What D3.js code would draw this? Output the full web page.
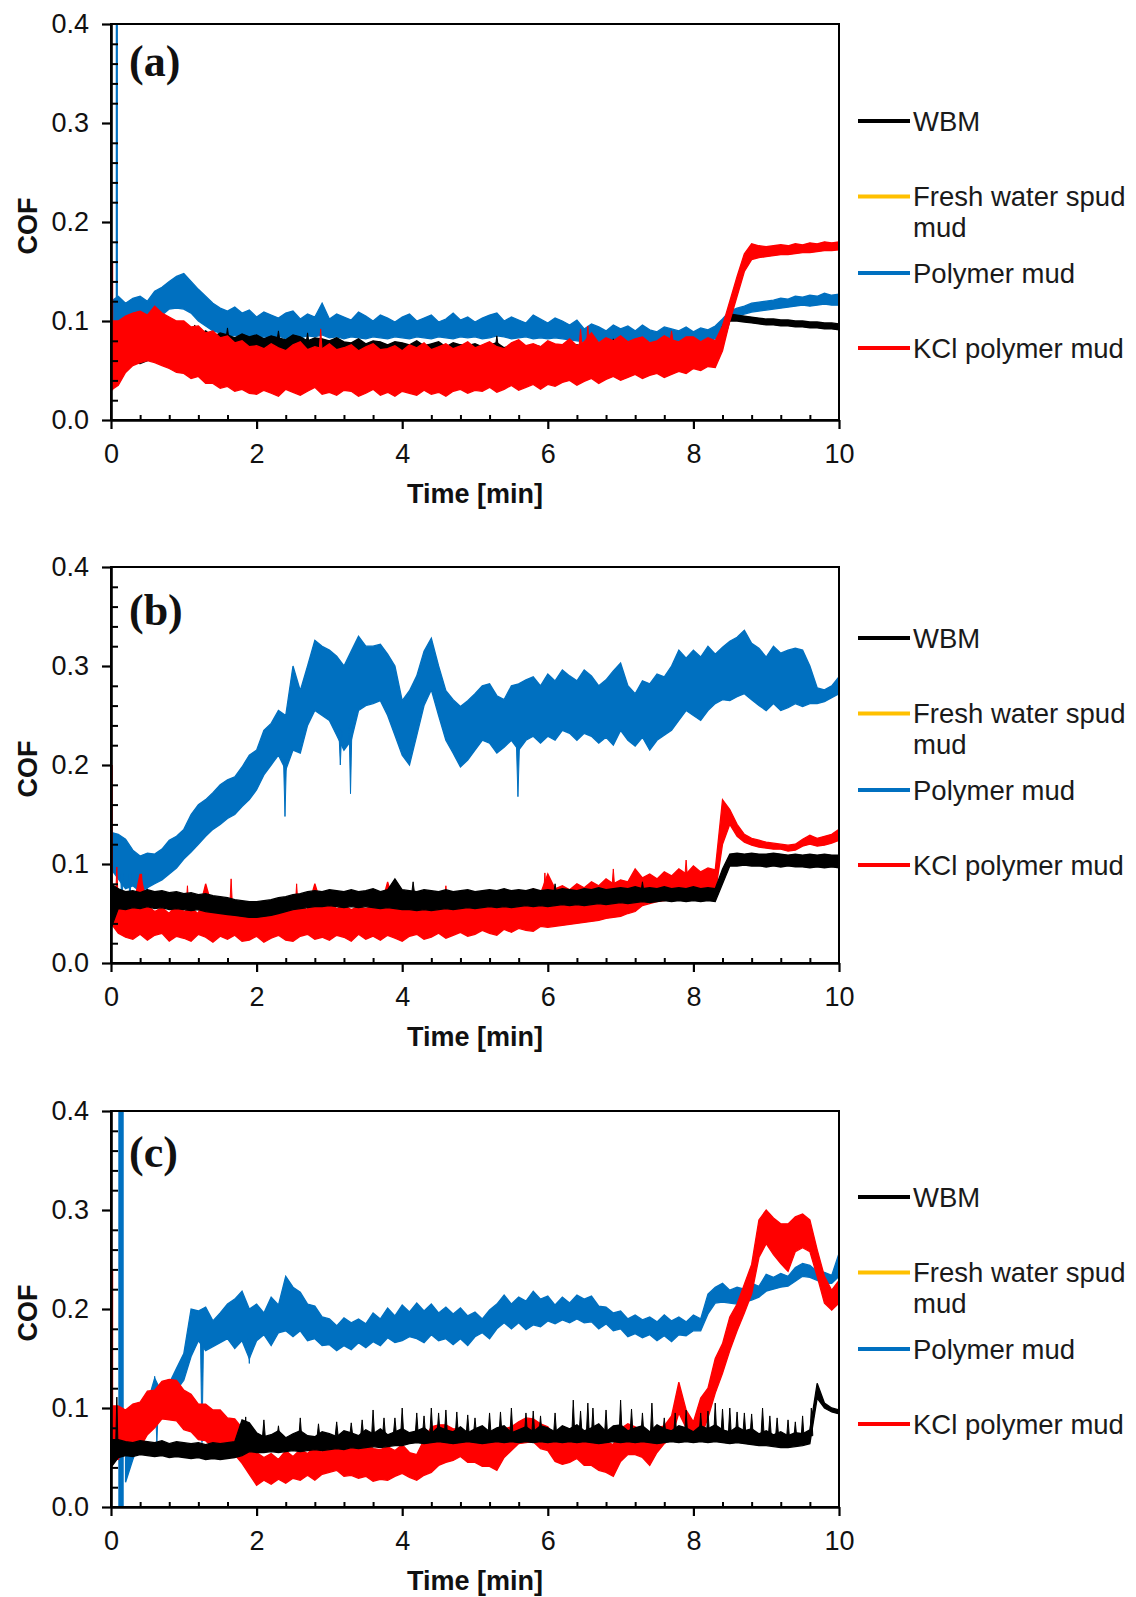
<!DOCTYPE html>
<html>
<head>
<meta charset="utf-8">
<script src="https://cdn.jsdelivr.net/npm/d3@7"></script>
<style>
  html, body { margin: 0; padding: 0; background: #fff; }
  svg { display: block; }
</style>
</head>
<body>
<svg id="chart" width="1136" height="1597"></svg>
<script>
// ---------------------------------------------------------------------------
// Coefficient of friction vs. time for three test runs (a), (b), (c).
// Each trace is noisy, so it is stored as its band: the low and high COF
// reading in each 0.1-min sample (values in thousandths of COF).
// Isolated excursions are listed separately as spikes [min, base, tip]
// and narrow bars [fromMin, toMin, low, high].
// ---------------------------------------------------------------------------

const minutes = [
  0, 0.1, 0.2, 0.3, 0.4, 0.5, 0.6, 0.7, 0.8, 0.9,
  1, 1.1, 1.2, 1.3, 1.4, 1.5, 1.6, 1.7, 1.8, 1.9,
  2, 2.1, 2.2, 2.3, 2.4, 2.5, 2.6, 2.7, 2.8, 2.9,
  3, 3.1, 3.2, 3.3, 3.4, 3.5, 3.6, 3.7, 3.8, 3.9,
  4, 4.1, 4.2, 4.3, 4.4, 4.5, 4.6, 4.7, 4.8, 4.9,
  5, 5.1, 5.2, 5.3, 5.4, 5.5, 5.6, 5.7, 5.8, 5.9,
  6, 6.1, 6.2, 6.3, 6.4, 6.5, 6.6, 6.7, 6.8, 6.9,
  7, 7.1, 7.2, 7.3, 7.4, 7.5, 7.6, 7.7, 7.8, 7.9,
  8, 8.1, 8.2, 8.3, 8.4, 8.5, 8.6, 8.7, 8.8, 8.9,
  9, 9.1, 9.2, 9.3, 9.4, 9.5, 9.6, 9.7, 9.8, 9.9,
  10
];

const seriesNames  = ["WBM", "Fresh water spud mud", "Polymer mud", "KCl polymer mud"];
const seriesColors = ["#000000", "#FFC000", "#0070C0", "#FF0000"];
const panelLabels  = ["(a)", "(b)", "(c)"];

const timeTicks  = [0, 2, 4, 6, 8, 10];
const timeMinor  = [0.4, 0.8, 1.2, 1.6, 2.4, 2.8, 3.2, 3.6, 4.4, 4.8, 5.2, 5.6,
                    6.4, 6.8, 7.2, 7.6, 8.4, 8.8, 9.2, 9.6];
const cofTicks   = [0, 0.1, 0.2, 0.3, 0.4];
const cofMinor   = [0.02, 0.04, 0.06, 0.08, 0.12, 0.14, 0.16, 0.18, 0.22, 0.24,
                    0.26, 0.28, 0.32, 0.34, 0.36, 0.38];

// ----- run (a) -----
const polyLoA = [
  95, 92, 96, 98, 95, 100, 103, 106, 112, 113,
  112, 108, 100, 95, 90, 88, 86, 85, 86, 84,
  83, 84, 83, 85, 82, 84, 83, 85, 84, 86,
  83, 84, 82, 84, 83, 82, 84, 83, 82, 84,
  83, 82, 84, 83, 82, 84, 83, 82, 84, 83,
  84, 82, 83, 85, 84, 82, 83, 84, 82, 83,
  82, 83, 82, 81, 80, 79, 78, 79, 78, 77,
  79, 78, 77, 78, 79, 77, 78, 79, 78, 77,
  78, 79, 80, 82, 92, 100, 105, 107, 109, 110,
  111, 112, 113, 114, 115, 116, 115, 116, 117, 116,
  116
];
const polyHiA = [
  120, 125, 118, 123, 125, 120, 130, 134, 140, 145,
  148, 140, 132, 125, 118, 113, 110, 114, 108, 111,
  104, 109, 106, 103, 108, 110, 102, 107, 104, 118,
  102, 107, 104, 101, 109, 105, 100, 106, 103, 99,
  104, 107, 100, 103, 106, 99, 102, 108, 101, 104,
  99, 103, 106, 108, 100, 104, 101, 98, 106, 102,
  98, 103, 100, 96, 101, 92, 97, 94, 90, 96,
  92, 95, 90, 96, 91, 89, 94, 92, 90, 94,
  89, 93, 91, 95, 102, 110, 113, 115, 118, 119,
  120, 121, 123, 122, 125, 124, 126, 125, 128, 126,
  127
];
const polySpikesA = [];
const polyBarsA = [[0.065, 0.095, 110, 400]];

const wbmLoA = [
  65, 62, 60, 58, 57, 60, 62, 65, 68, 70,
  70, 71, 70, 69, 70, 68, 69, 67, 68, 66,
  67, 66, 67, 65, 66, 64, 66, 65, 64, 65,
  63, 64, 63, 62, 64, 63, 62, 63, 61, 62,
  61, 62, 60, 61, 60, 61, 59, 60, 61, 59,
  60, 59, 60, 58, 59, 60, 58, 59, 57, 58,
  57, 58, 56, 57, 58, 56, 57, 56, 58, 56,
  57, 56, 57, 55, 56, 57, 55, 56, 57, 55,
  56, 57, 56, 58, 75, 100, 100, 99, 98, 97,
  96, 96, 95, 95, 94, 94, 93, 93, 92, 92,
  91
];
const wbmHiA = [
  100, 95, 90, 88, 86, 90, 92, 94, 92, 90,
  92, 87, 85, 90, 84, 88, 86, 83, 87, 84,
  86, 82, 85, 83, 81, 86, 84, 80, 83, 82,
  80, 83, 79, 78, 82, 77, 80, 79, 76, 79,
  78, 76, 80, 75, 77, 79, 74, 78, 76, 75,
  77, 74, 76, 78, 73, 75, 77, 73, 76, 74,
  73, 76, 74, 72, 76, 73, 71, 75, 74, 72,
  75, 72, 73, 76, 71, 74, 73, 72, 75, 71,
  73, 74, 72, 75, 95, 107, 106, 105, 104, 103,
  102, 102, 101, 101, 100, 100, 99, 99, 98, 98,
  97
];
const wbmSpikesA = [[0.95, 85, 98], [1.15, 84, 96], [1.6, 82, 93], [2.3, 80, 90],
                    [2.7, 78, 88], [5.3, 74, 85], [6.9, 72, 82]];
const wbmBarsA = [];

const kclLoA = [
  30, 35, 48, 55, 58, 60, 58, 55, 52, 48,
  47, 42, 44, 37, 37, 32, 34, 29, 31, 27,
  26, 30, 27, 24, 31, 28, 25, 29, 33, 26,
  28, 25, 30, 29, 24, 27, 31, 25, 28, 24,
  29, 27, 25, 30, 26, 28, 24, 29, 31, 27,
  30, 29, 33, 28, 31, 35, 30, 33, 36, 31,
  36, 34, 38, 40, 35, 39, 42, 37, 41, 44,
  40, 43, 46, 42, 45, 47, 43, 46, 49, 47,
  52, 50, 54, 53, 70, 100, 125, 150, 162, 164,
  165, 166, 167, 167, 168, 169, 169, 170, 171, 171,
  172
];
const kclHiA = [
  100, 100, 105, 108, 110, 106, 115, 108, 104, 100,
  100, 94, 95, 88, 90, 83, 85, 78, 80, 74,
  75, 72, 77, 73, 70, 76, 79, 71, 74, 72,
  77, 71, 73, 76, 70, 74, 77, 71, 72, 75,
  70, 76, 73, 78, 71, 74, 77, 72, 75, 79,
  73, 76, 79, 74, 72, 78, 81, 75, 77, 74,
  80, 77, 76, 82, 75, 79, 88, 78, 83, 80,
  85, 79, 82, 84, 78, 80, 85, 81, 79, 84,
  84, 79, 83, 80, 95, 120, 145, 168, 178, 176,
  175, 176, 177, 176, 178, 177, 179, 178, 180, 179,
  180
];
const kclSpikesA = [[2.88, 70, 92], [6.45, 75, 92], [6.55, 75, 95], [7.7, 80, 90]];
const kclBarsA = [[0, 0.03, 30, 160]];

// ----- run (b) -----
const polyLoB = [
  95, 85, 75, 78, 72, 76, 80, 84, 90, 96,
  105, 112, 120, 128, 135, 140, 146, 150, 158, 165,
  175, 190, 200, 210, 195, 215, 212, 240, 255, 250,
  245, 230, 215, 225, 255, 260, 262, 265, 250, 230,
  210, 200, 230, 260, 276, 250, 225, 212, 198, 205,
  215, 225, 222, 212, 218, 225, 215, 225, 229, 222,
  229, 225, 235, 232, 225, 232, 229, 222, 228, 220,
  235, 225, 219, 228, 215, 225, 230, 235, 245, 255,
  250, 245, 255, 262, 266, 265, 269, 272, 266, 260,
  255, 262, 255, 258, 262, 259, 262, 262, 264, 268,
  272
];
const polyHiB = [
  132, 130, 125, 114, 108, 111, 110, 115, 124, 128,
  135, 150, 160, 165, 172, 180, 185, 188, 198, 210,
  215, 235, 242, 255, 250, 300, 275, 300, 326, 320,
  316, 310, 300, 315, 330, 320, 320, 322, 312, 300,
  265, 275, 290, 315, 328, 300, 275, 266, 259, 265,
  272, 280, 282, 270, 266, 280, 282, 286, 289, 280,
  292, 285, 296, 290, 285, 296, 290, 280, 286, 295,
  303, 280, 272, 285, 282, 292, 289, 300, 316, 308,
  316, 309, 320, 312, 319, 325, 329, 336, 323, 318,
  309, 320, 313, 316, 318, 316, 300, 278, 276, 280,
  289
];
const polySpikesB = [[0.15, 90, 62], [0.26, 90, 65], [0.49, 90, 66], [2.39, 205, 148],
                     [3.15, 235, 200], [3.29, 240, 171], [5.59, 218, 168]];
const polyBarsB = [];

const wbmLoB = [
  35, 55, 54, 56, 55, 57, 55, 56, 54, 55,
  54, 53, 54, 52, 51, 50, 49, 48, 47, 46,
  46, 47, 48, 50, 52, 54, 55, 56, 57, 57,
  58, 57, 56, 57, 56, 57, 56, 55, 56, 55,
  54, 54, 53, 54, 53, 54, 55, 54, 55, 56,
  55, 56, 57, 56, 57, 56, 57, 58, 57, 58,
  57, 58, 59, 58, 59, 58, 59, 60, 59, 60,
  61, 60, 61, 62, 61, 62, 63, 62, 63, 62,
  63, 62, 63, 62, 80, 98, 98, 99, 98, 98,
  97, 98, 97, 98, 97, 97, 96, 97, 96, 97,
  96
];
const wbmHiB = [
  80, 75, 72, 73, 71, 74, 72, 73, 71, 72,
  70, 71, 69, 70, 68, 67, 66, 64, 63, 62,
  62, 63, 64, 66, 67, 69, 70, 72, 73, 72,
  74, 73, 72, 74, 72, 73, 75, 72, 74, 85,
  74, 73, 72, 74, 73, 72, 74, 72, 73, 74,
  72, 73, 74, 73, 75, 73, 74, 73, 75, 73,
  74, 73, 75, 74, 73, 75, 74, 76, 74, 75,
  76, 75, 77, 75, 76, 75, 77, 75, 76, 75,
  77, 75, 76, 75, 95, 110, 111, 110, 111, 110,
  110, 111, 110, 109, 110, 109, 110, 109, 110, 109,
  109
];
const wbmSpikesB = [[4.15, 70, 82], [6.1, 70, 80], [7.3, 72, 82]];
const wbmBarsB = [];

const kclLoB = [
  40, 30, 26, 24, 29, 23, 28, 30, 22, 27,
  25, 22, 29, 26, 21, 27, 24, 28, 22, 23,
  27, 21, 25, 28, 23, 22, 27, 29, 24, 26,
  23, 28, 26, 22, 29, 24, 27, 23, 28, 25,
  22, 27, 29, 24, 26, 30, 25, 28, 31, 27,
  29, 33, 30, 28, 34, 31, 35, 33, 32, 37,
  36, 37, 38, 39, 40, 41, 42, 43, 45, 46,
  47, 50, 52, 58, 60, 62, 63, 64, 65, 66,
  67, 68, 69, 70, 120, 140, 128, 122, 119, 117,
  116, 115, 115, 113, 114, 118, 120, 118, 119, 121,
  124
];
const kclHiB = [
  75, 75, 60, 55, 90, 58, 52, 56, 50, 60,
  52, 55, 50, 80, 54, 52, 56, 50, 54, 52,
  55, 50, 56, 52, 58, 53, 57, 54, 80, 56,
  60, 55, 58, 54, 57, 55, 58, 55, 82, 56,
  58, 55, 59, 56, 60, 58, 62, 58, 63, 59,
  64, 60, 65, 62, 68, 63, 70, 66, 75, 70,
  90, 75, 78, 74, 80, 76, 82, 78, 85, 80,
  84, 82, 95, 86, 90, 85, 92, 88, 95, 90,
  98, 92, 96, 94, 165, 155, 140, 130, 126, 124,
  122, 121, 120, 119, 120, 125, 129, 126, 128, 130,
  135
];
const kclSpikesB = [[0.08, 60, 97], [0.42, 60, 90], [1.05, 55, 78], [1.65, 55, 85],
                    [2.55, 55, 80], [4.6, 58, 78], [5.96, 65, 91], [6.9, 75, 95],
                    [7.9, 85, 104]];
const kclBarsB = [[0, 0.025, 40, 200]];

// ----- run (c) -----
const polyLoC = [
  null, null, 25, 48, 68, 82, 85, 90, 100, 118,
  128, 152, 168, 158, 162, 166, 170, 160, 168, 150,
  168, 174, 163, 176, 178, 172, 178, 168, 170, 163,
  164, 158, 163, 159, 166, 161, 167, 163, 171, 166,
  168, 172, 170, 166, 174, 168, 170, 164, 170, 163,
  172, 176, 170, 180, 186, 180, 186, 179, 184, 182,
  188, 185, 189, 186, 190, 186, 187, 180, 185, 178,
  180, 172, 175, 171, 174, 168, 173, 167, 174, 173,
  178, 178, 195, 206, 207, 206, 205, 207, 209, 212,
  218, 220, 222, 223, 228, 233, 232, 229, 226, 226,
  233
];
const polyHiC = [
  null, null, 50, 70, 90, 105, 130, 115, 125, 140,
  155, 200, 198, 202, 188, 196, 205, 210, 218, 200,
  205, 196, 212, 204, 233, 222, 217, 205, 203, 192,
  190, 183, 191, 186, 190, 185, 196, 190, 201, 193,
  204, 197, 206, 198, 205, 196, 202, 195, 201, 193,
  197, 190, 199, 205, 214, 205, 212, 208, 218, 210,
  213, 204, 212, 206, 214, 210, 213, 203, 202, 196,
  198, 190, 194, 189, 192, 187, 194, 188, 192, 187,
  194, 190, 215, 222, 226, 219, 222, 220, 226, 223,
  235, 232, 236, 233, 242, 246, 244, 238, 237, 234,
  256
];
const polySpikesC = [[0.63, 100, 65], [0.6, 110, 132], [1.25, 165, 65], [1.9, 170, 145]];
const polyBarsC = [[0.1, 0.175, 0, 400]];

const wbmLoC = [
  40, 50, 52, 51, 53, 52, 51, 52, 50, 51,
  50, 49, 50, 48, 49, 48, 49, 50, 52, 56,
  55, 55, 56, 55, 56, 57, 56, 57, 58, 57,
  58, 59, 58, 60, 59, 60, 61, 60, 61, 62,
  62, 64, 65, 64, 65, 66, 65, 64, 65, 66,
  65, 64, 65, 66, 65, 66, 65, 66, 65, 66,
  65, 66, 65, 66, 65, 66, 65, 64, 65, 66,
  65, 66, 65, 66, 65, 64, 65, 66, 65, 66,
  65, 66, 65, 66, 65, 64, 65, 64, 63, 62,
  62, 61, 60, 60, 61, 62, 64, 110, 100, 96,
  94
];
const wbmHiC = [
  68, 68, 66, 65, 67, 66, 65, 67, 64, 66,
  65, 64, 65, 63, 65, 64, 65, 66, 88, 85,
  75, 71, 73, 77, 70, 74, 77, 72, 71, 76,
  74, 71, 77, 75, 72, 78, 74, 79, 73, 76,
  79, 75, 77, 80, 74, 81, 78, 76, 81, 75,
  79, 82, 76, 80, 82, 75, 78, 81, 76, 82,
  80, 76, 82, 79, 83, 77, 80, 84, 76, 82,
  83, 77, 80, 82, 76, 83, 79, 77, 82, 80,
  76, 82, 79, 83, 78, 76, 81, 77, 79, 74,
  77, 73, 76, 72, 75, 74, 78, 125, 105, 100,
  98
];
const wbmSpikesC = [
  [0.08, 50, 111], [1.85, 65, 91], [2.1, 70, 88], [2.3, 70, 82], [2.6, 70, 90],
  [2.85, 70, 84], [3.1, 72, 86], [3.3, 72, 85], [3.45, 72, 88], [3.6, 72, 98],
  [3.75, 72, 90], [3.9, 74, 90], [4.0, 74, 100], [4.2, 74, 95], [4.3, 74, 92],
  [4.4, 74, 100], [4.5, 74, 95], [4.6, 74, 98], [4.75, 74, 96], [4.9, 74, 93],
  [5.0, 74, 90], [5.2, 74, 95], [5.35, 74, 96], [5.5, 74, 100], [5.7, 74, 95],
  [5.8, 74, 97], [5.9, 74, 92], [6.1, 74, 95], [6.35, 74, 108], [6.45, 74, 97],
  [6.55, 74, 105], [6.62, 74, 100], [6.8, 74, 98], [7.0, 74, 108], [7.15, 74, 99],
  [7.3, 74, 95], [7.43, 74, 105], [7.6, 74, 90], [7.75, 74, 95], [7.9, 74, 98],
  [8.1, 74, 95], [8.2, 74, 97], [8.3, 74, 105], [8.4, 74, 99], [8.5, 74, 100],
  [8.6, 74, 96], [8.7, 74, 95], [8.8, 74, 94], [8.95, 74, 100], [9.05, 72, 92],
  [9.15, 72, 90], [9.3, 70, 88], [9.4, 70, 86], [9.5, 70, 92], [9.62, 72, 100]
];
const wbmBarsC = [];

const kclLoC = [
  50, 48, 62, 66, 60, 73, 80, 89, 88, 87,
  78, 76, 68, 67, 60, 61, 54, 53, 44, 33,
  22, 27, 23, 28, 24, 29, 27, 32, 27, 33,
  35, 37, 31, 32, 29, 31, 26, 28, 27, 31,
  34, 30, 27, 32, 35, 42, 45, 47, 51, 45,
  45, 41, 41, 37, 50, 57, 64, 65, 66, 59,
  57, 46, 43, 45, 49, 42, 42, 37, 35, 31,
  46, 53, 53, 50, 42, 55, 64, 70, 95, 80,
  72, 70, 90, 115, 135, 158, 178, 196, 215, 252,
  266, 255, 246, 238, 258, 262, 258, 233, 206, 199,
  206
];
const kclHiC = [
  102, 102, 98, 104, 106, 117, 118, 127, 129, 128,
  118, 114, 104, 104, 98, 98, 90, 89, 80, 70,
  55, 50, 54, 48, 57, 51, 58, 54, 61, 55,
  67, 70, 65, 63, 59, 66, 59, 58, 61, 57,
  63, 55, 53, 68, 81, 83, 83, 79, 79, 74,
  77, 72, 72, 69, 79, 81, 86, 90, 89, 84,
  81, 71, 71, 74, 75, 69, 69, 65, 66, 63,
  79, 84, 81, 77, 67, 80, 82, 92, 126, 98,
  86, 110, 120, 150, 165, 192, 205, 225, 245, 290,
  300, 292, 286, 286, 293, 296, 290, 260, 233, 219,
  229
];
const kclSpikesC = [];
const kclBarsC = [[0, 0.03, 50, 240]];

// ---------------------------------------------------------------------------
// Layout
// ---------------------------------------------------------------------------
const W = 1136, H = 1597;
const plotLeft = 111, plotRight = 839, plotH = 396;
const legendStep = [0, 75.5, 152, 227];
const spikeHalfWidth = 0.02;   // min

// traces listed bottom-to-top in drawing order
const panels = [
  { label: panelLabels[0], top: 24, legendTop: 97, labelDy: 52,
    layers: [
      { lo: polyLoA, hi: polyHiA, spikes: polySpikesA, bars: polyBarsA, color: seriesColors[2] },
      { lo: wbmLoA,  hi: wbmHiA,  spikes: wbmSpikesA,  bars: wbmBarsA,  color: seriesColors[0] },
      { lo: kclLoA,  hi: kclHiA,  spikes: kclSpikesA,  bars: kclBarsA,  color: seriesColors[3] } ] },
  { label: panelLabels[1], top: 567, legendTop: 71, labelDy: 58,
    layers: [
      { lo: polyLoB, hi: polyHiB, spikes: polySpikesB, bars: polyBarsB, color: seriesColors[2] },
      { lo: kclLoB,  hi: kclHiB,  spikes: kclSpikesB,  bars: kclBarsB,  color: seriesColors[3] },
      { lo: wbmLoB,  hi: wbmHiB,  spikes: wbmSpikesB,  bars: wbmBarsB,  color: seriesColors[0] } ] },
  { label: panelLabels[2], top: 1111, legendTop: 86, labelDy: 56,
    layers: [
      { lo: polyLoC, hi: polyHiC, spikes: polySpikesC, bars: polyBarsC, color: seriesColors[2] },
      { lo: kclLoC,  hi: kclHiC,  spikes: kclSpikesC,  bars: kclBarsC,  color: seriesColors[3] },
      { lo: wbmLoC,  hi: wbmHiC,  spikes: wbmSpikesC,  bars: wbmBarsC,  color: seriesColors[0] } ] }
];

const sans = '"Liberation Sans", Arial, Helvetica, sans-serif';
const serif = '"Liberation Serif", "Times New Roman", Times, serif';

const svg = d3.select("#chart");
svg.append("rect").attr("width", W).attr("height", H).attr("fill", "#fff");

const x = d3.scaleLinear().domain([0, 10]).range([plotLeft, plotRight]);

panels.forEach((p, i) => {
  const bottom = p.top + plotH;
  const y = d3.scaleLinear().domain([0, 0.4]).range([bottom, p.top]);

  const clipId = "plot-clip-" + i;
  svg.append("clipPath").attr("id", clipId)
    .append("rect")
    .attr("x", plotLeft).attr("y", p.top)
    .attr("width", plotRight - plotLeft).attr("height", plotH);

  const traces = svg.append("g").attr("clip-path", `url(#${clipId})`);

  const band = d3.area()
    .defined(d => d.lo != null && d.hi != null)
    .x(d => x(d.t))
    .y0(d => y(d.lo / 1000))
    .y1(d => y(d.hi / 1000));

  p.layers.forEach(L => {
    const rows = minutes.map((t, k) => ({ t, lo: L.lo[k], hi: L.hi[k] }));
    const g = traces.append("g");
    g.append("path")
      .datum(rows)
      .attr("d", band)
      .attr("fill", L.color)
      .attr("stroke", L.color)
      .attr("stroke-width", 1.3)
      .attr("stroke-linejoin", "miter")
      .attr("stroke-miterlimit", 3);
    g.selectAll("path.spike")
      .data(L.spikes)
      .join("path")
      .attr("class", "spike")
      .attr("d", d => {
        const path = d3.path();
        path.moveTo(x(d[0] - spikeHalfWidth), y(d[1] / 1000));
        path.lineTo(x(d[0]), y(d[2] / 1000));
        path.lineTo(x(d[0] + spikeHalfWidth), y(d[1] / 1000));
        path.closePath();
        return path.toString();
      })
      .attr("fill", L.color)
      .attr("stroke", L.color)
      .attr("stroke-width", 1);
    g.selectAll("rect.bar")
      .data(L.bars)
      .join("rect")
      .attr("class", "bar")
      .attr("x", d => x(d[0]))
      .attr("width", d => x(d[1]) - x(d[0]))
      .attr("y", d => y(d[3] / 1000))
      .attr("height", d => y(d[2] / 1000) - y(d[3] / 1000))
      .attr("fill", L.color);
  });

  // plot frame
  svg.append("rect")
    .attr("x", plotLeft).attr("y", p.top)
    .attr("width", plotRight - plotLeft).attr("height", plotH)
    .attr("fill", "none").attr("stroke", "#000").attr("stroke-width", 2);

  // minor ticks point into the plot
  svg.append("g")
    .attr("transform", `translate(${plotLeft},0)`)
    .call(d3.axisRight(y).tickValues(cofMinor).tickSize(7).tickFormat(""))
    .call(s => s.select(".domain").remove())
    .call(s => s.selectAll("line").attr("stroke", "#000").attr("stroke-width", 2));
  svg.append("g")
    .attr("transform", `translate(0,${bottom})`)
    .call(d3.axisTop(x).tickValues(timeMinor).tickSize(5).tickFormat(""))
    .call(s => s.select(".domain").remove())
    .call(s => s.selectAll("line").attr("stroke", "#000").attr("stroke-width", 2));

  // major ticks and labels
  const yAxis = svg.append("g")
    .attr("transform", `translate(${plotLeft},0)`)
    .call(d3.axisLeft(y).tickValues(cofTicks).tickSize(9).tickSizeOuter(0)
      .tickPadding(13).tickFormat(d3.format(".1f")));
  const xAxis = svg.append("g")
    .attr("transform", `translate(0,${bottom})`)
    .call(d3.axisBottom(x).tickValues(timeTicks).tickSize(9).tickSizeOuter(0)
      .tickPadding(15).tickFormat(d3.format("d")));
  [yAxis, xAxis].forEach(a => {
    a.select(".domain").attr("stroke", "#000").attr("stroke-width", 2.6);
    a.selectAll(".tick line").attr("stroke", "#000").attr("stroke-width", 2.2);
    a.selectAll(".tick text")
      .attr("fill", "#111")
      .style("font-family", sans)
      .style("font-size", "27px");
  });

  // axis titles
  svg.append("text")
    .attr("transform", `translate(37,${p.top + 202}) rotate(-90)`)
    .attr("text-anchor", "middle")
    .style("font-family", sans).style("font-size", "27px").style("font-weight", "bold")
    .attr("fill", "#111")
    .text("COF");
  svg.append("text")
    .attr("x", (plotLeft + plotRight) / 2)
    .attr("y", bottom + 82.5)
    .attr("text-anchor", "middle")
    .style("font-family", sans).style("font-size", "27px").style("font-weight", "bold")
    .attr("fill", "#111")
    .text("Time [min]");

  // panel letter
  svg.append("text")
    .attr("x", 129)
    .attr("y", p.top + p.labelDy)
    .style("font-family", serif).style("font-size", "44px").style("font-weight", "bold")
    .attr("fill", "#111")
    .text(p.label);

  // legend
  const legend = svg.append("g");
  seriesNames.forEach((name, k) => {
    const ly = p.top + p.legendTop + legendStep[k];
    legend.append("line")
      .attr("x1", 858).attr("x2", 910)
      .attr("y1", ly).attr("y2", ly)
      .attr("stroke", seriesColors[k])
      .attr("stroke-width", 4);
    const txt = legend.append("text")
      .attr("x", 913).attr("y", ly + 9.5)
      .style("font-family", sans).style("font-size", "27.5px")
      .attr("fill", "#1a1a1a");
    // wrap words to the space right of the plot
    const words = name.split(" ");
    let line = [];
    let tspan = txt.append("tspan").attr("x", 913).attr("dy", 0);
    words.forEach(w => {
      line.push(w);
      tspan.text(line.join(" "));
      if (tspan.node().getComputedTextLength() > 221 && line.length > 1) {
        line.pop();
        tspan.text(line.join(" "));
        line = [w];
        tspan = txt.append("tspan").attr("x", 913).attr("dy", 31).text(w);
      }
    });
  });
});
</script>
</body>
</html>
